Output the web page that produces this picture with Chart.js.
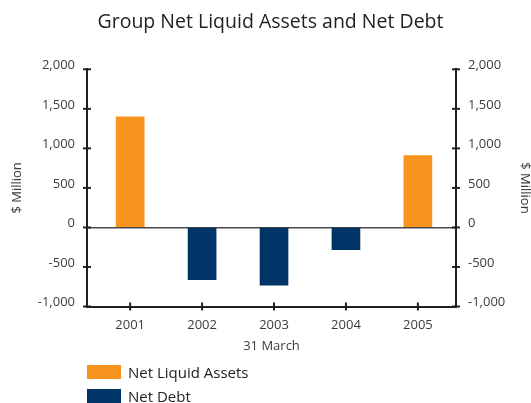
<!DOCTYPE html>
<html>
<head>
<meta charset="utf-8">
<title>Group Net Liquid Assets and Net Debt</title>
<script src="https://cdn.jsdelivr.net/npm/chart.js@4.4.1/dist/chart.umd.min.js"></script>
<style>
  body { margin: 0; background: #fff; }
  #wrap { position: relative; width: 531px; height: 403px; font-family: 'Open Sans', sans-serif; }
  #legend { position: absolute; left: 87px; top: 360px; }
  .item { display: flex; align-items: center; height: 24px; font-size: 15px; color: #222; }
  .swatch { width: 34px; height: 14px; margin-right: 7px; }
</style>
</head>
<body>
<div id="wrap">
  <canvas id="chart" width="531" height="403"></canvas>
  <div id="legend"></div>
</div>
<script>
// Valores em $ milhões, a 31 de março de cada ano
const years = [2001, 2002, 2003, 2004, 2005];
const netLiquidAssets = [1400, null, null, null, 910];
const netDebt = [null, -660, -730, -280, null];
const yTicks = [-1000, -500, 0, 500, 1000, 1500, 2000];

const ORANGE = '#f7941e';
const NAVY = '#003466';
const AXIS = '#231f20';
const TEXT = '#3c3c3c';

Chart.defaults.font.family = "'Open Sans', sans-serif";
Chart.defaults.font.size = 13;
Chart.defaults.color = TEXT;

// Marcas de escala que cruzam a linha do eixo
const crossTicks = {
    id: 'crossTicks',
    afterDraw(chart) {
        const c = chart.ctx;
        c.save();
        c.strokeStyle = AXIS;
        c.lineWidth = 2;
        ['x', 'y', 'y2'].forEach(id => {
            const s = chart.scales[id];
            s.ticks.forEach((t, i) => {
                const p = s.getPixelForTick(i);
                c.beginPath();
                if (s.isHorizontal()) {
                    c.moveTo(p, s.top - 4);
                    c.lineTo(p, s.top + 4);
                } else {
                    const ax = s.position === 'left' ? s.right : s.left;
                    c.moveTo(ax - 4, p);
                    c.lineTo(ax + 4, p);
                }
                c.stroke();
            });
        });
        c.restore();
    }
};

const toPoints = values => years.map((yr, i) => ({ x: yr, y: values[i] }));

const setYTicks = s => { s.ticks = yTicks.map(v => ({ value: v })); };

const yAxis = (position, width, titlePad) => ({
    type: 'linear',
    position: position,
    min: -1000,
    max: 2000,
    z: 1,
    afterBuildTicks: setYTicks,
    afterFit: s => { s.width = width; },
    grid: {
        display: position === 'left',
        drawTicks: false,
        lineWidth: 1.5,
        color: ctx => ctx.tick && ctx.tick.value === 0 ? '#4a4a4a' : 'rgba(0,0,0,0)'
    },
    border: { color: AXIS, width: 2 },
    ticks: {
        padding: 12,
        labelOffset: -4,
        callback: v => v.toLocaleString('en-US')
    },
    title: {
        display: true,
        text: '$ Million',
        font: { size: 13, lineHeight: 1 },
        padding: { top: titlePad, bottom: 0 }
    }
});

const chart = new Chart(document.getElementById('chart'), {
    type: 'bar',
    data: {
        datasets: [
            {
                label: 'Net Liquid Assets',
                data: toPoints(netLiquidAssets),
                backgroundColor: ORANGE,
                barThickness: 28,
                grouped: false
            },
            {
                label: 'Net Debt',
                data: toPoints(netDebt),
                backgroundColor: NAVY,
                barThickness: 28,
                grouped: false
            }
        ]
    },
    plugins: [crossTicks],
    options: {
        responsive: false,
        animation: false,
        layout: { padding: { left: 10, right: 0, top: 0, bottom: 48.5 } },
        plugins: {
            legend: { display: false },
            tooltip: { enabled: false },
            title: {
                display: true,
                text: 'Group Net Liquid Assets and Net Debt',
                color: '#222',
                font: { size: 19.5, weight: 'normal', lineHeight: 1.2 },
                padding: { top: 11, bottom: 34.9 }
            }
        },
        scales: {
            x: {
                type: 'linear',
                offset: false,
                min: 2000.4,
                max: 2005.53,
                afterBuildTicks: s => { s.ticks = years.map(v => ({ value: v })); },
                afterFit: s => { s.height = 48; },
                grid: { display: false, drawTicks: false },
                border: { color: AXIS, width: 2 },
                ticks: {
                    padding: 11,
                    autoSkip: false,
                    maxRotation: 0,
                    callback: v => String(v)
                },
                title: {
                    display: true,
                    text: '31 March',
                    font: { size: 13, lineHeight: 1.2 },
                    padding: 0
                }
            },
            y: yAxis('left', 77, 0.5),
            y2: yAxis('right', 75, 0)
        }
    }
});

// Legenda em coluna, feita a partir dos próprios datasets
const legend = document.getElementById('legend');
chart.data.datasets.forEach(ds => {
    const item = document.createElement('div');
    item.className = 'item';
    const sw = document.createElement('span');
    sw.className = 'swatch';
    sw.style.background = ds.backgroundColor;
    const txt = document.createElement('span');
    txt.textContent = ds.label;
    item.appendChild(sw);
    item.appendChild(txt);
    legend.appendChild(item);
});
</script>
</body>
</html>
